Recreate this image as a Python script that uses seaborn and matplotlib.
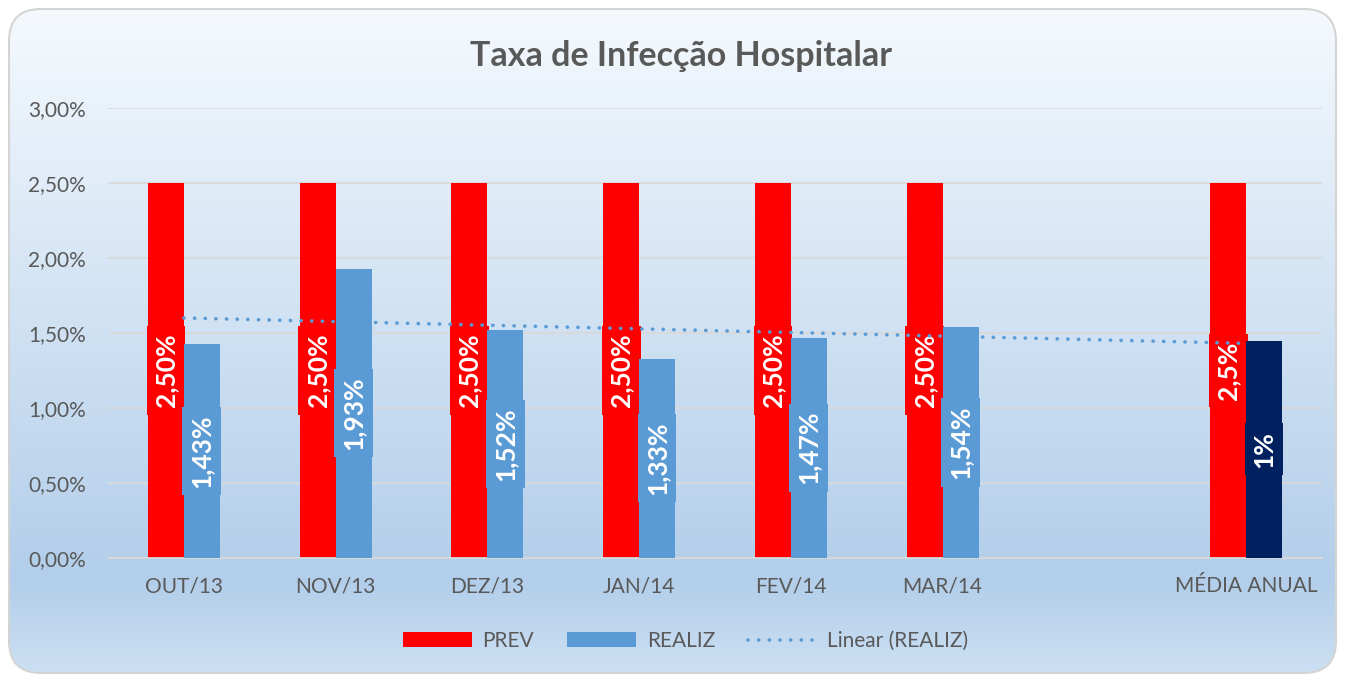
import numpy as np
import pandas as pd
import matplotlib
matplotlib.use("Agg")
import matplotlib.pyplot as plt
import seaborn as sns
from matplotlib.patches import FancyBboxPatch, Patch
from matplotlib.lines import Line2D
from matplotlib.colors import to_rgb
from matplotlib.ticker import FuncFormatter, MultipleLocator

# valores (em %)
categorias = ["OUT/13", "NOV/13", "DEZ/13", "JAN/14", "FEV/14", "MAR/14", " ", "MÉDIA ANUAL"]
prev = [2.50, 2.50, 2.50, 2.50, 2.50, 2.50, np.nan, 2.50]
realiz = [1.43, 1.93, 1.52, 1.33, 1.47, 1.54, np.nan, 1.45]
rotulos_prev = ["2,50%", "2,50%", "2,50%", "2,50%", "2,50%", "2,50%", "", "2,5%"]
rotulos_realiz = ["1,43%", "1,93%", "1,52%", "1,33%", "1,47%", "1,54%", "", "1%"]

VERMELHO = "#ff0000"
AZUL = "#5b9bd5"
MARINHO = "#002060"
CINZA = "#595959"

sns.set_style("white")
plt.rcParams["font.family"] = ["Lato", "DejaVu Sans"]

df = pd.DataFrame({
    "cat": categorias * 2,
    "serie": ["PREV"] * len(categorias) + ["REALIZ"] * len(categorias),
    "valor": prev + realiz,
}).dropna()

W, H = 1345, 675
fig = plt.figure(figsize=(W / 100, H / 100), dpi=100)

# fundo com gradiente e borda arredondada (coordenadas em pixels, y para cima)
bg = fig.add_axes([0, 0, 1, 1])
bg.set_xlim(0, W)
bg.set_ylim(0, H)
bg.axis("off")
caixa = FancyBboxPatch((9, 2), W - 18, H - 11, boxstyle="round,pad=0,rounding_size=32",
                       fc="none", ec="#d4d4d4", lw=1.5, zorder=3)
bg.add_patch(caixa)
t = np.linspace(0, 1, 256)
stops = [0.0, 0.86, 1.0]
cores = np.array([[246, 250, 254], [178, 206, 234], [204, 224, 243]]) / 255
grad = np.stack([np.interp(t, stops, cores[:, i]) for i in range(3)], axis=1)
img = bg.imshow(grad[:, None, :], extent=(0, W, 0, H), origin="upper", aspect="auto", zorder=1)
img.set_clip_path(caixa)

ax = fig.add_axes([108 / W, 1 - 558 / H, (1322 - 108) / W, 450 / H])
ax.patch.set_alpha(0)

sns.barplot(data=df, x="cat", y="valor", hue="serie", order=categorias,
            hue_order=["PREV", "REALIZ"], palette={"PREV": VERMELHO, "REALIZ": AZUL},
            width=0.474, saturation=1, legend=False, linewidth=0, ax=ax)

barras = list(ax.patches)
for p in barras:
    xc = p.get_x() + p.get_width() / 2
    i = int(round(xc))
    h = p.get_height()
    if np.isnan(h) or h == 0:
        continue
    p.set_edgecolor("none")
    eh_prev = np.allclose(p.get_facecolor()[:3], to_rgb(VERMELHO))
    if eh_prev:
        p.set_zorder(2)
        txt, z = rotulos_prev[i], 3
    else:
        if categorias[i] == "MÉDIA ANUAL":
            p.set_facecolor(MARINHO)
        p.set_zorder(5)
        txt, z = rotulos_realiz[i], 6
    ax.text(xc, h / 2, txt, rotation=90, ha="center", va="center", color="white",
            fontsize=19, fontweight="bold", zorder=z,
            bbox=dict(boxstyle="square,pad=0.28", fc=p.get_facecolor(), ec="none"))

# linha de tendencia linear (REALIZ)
xs = np.array([i for i, v in enumerate(realiz) if not np.isnan(v)])
ys = np.array([v for v in realiz if not np.isnan(v)])
a, b = np.polyfit(xs, ys, 1)
xl = np.array([xs.min(), xs.max()])
ax.plot(xl, a * xl + b, color=AZUL, lw=2.6, linestyle=(0, (0.05, 2.9)),
        dash_capstyle="round", zorder=4)

ax.set_ylim(0, 3.0)
ax.set_xlim(-0.5, len(categorias) - 0.5)
ax.yaxis.set_major_locator(MultipleLocator(0.5))
ax.yaxis.set_major_formatter(FuncFormatter(lambda v, _: f"{v:.2f}%".replace(".", ",")))
ax.yaxis.grid(True, color="#d9d9d9", lw=1.3)
ax.set_axisbelow(True)
for s in ["top", "right", "left"]:
    ax.spines[s].set_visible(False)
ax.spines["bottom"].set_color("#d9d9d9")
ax.spines["bottom"].set_linewidth(1.3)
ax.tick_params(axis="both", length=0, labelsize=15, labelcolor=CINZA)
ax.tick_params(axis="y", pad=16)
ax.tick_params(axis="x", pad=13)
ax.set_xlabel("")
ax.set_ylabel("")

fig.text(0.506, 1 - 56 / H, "Taxa de Infecção Hospitalar", ha="center", va="center",
         fontsize=24.5, fontweight="bold", color=CINZA)

handles = [Patch(fc=VERMELHO, ec="none"), Patch(fc=AZUL, ec="none"),
           Line2D([], [], color=AZUL, lw=2.6, linestyle=(0, (0.05, 2.9)), dash_capstyle="round")]
fig.legend(handles, ["PREV", "REALIZ", "Linear (REALIZ)"], loc="center",
           bbox_to_anchor=(0.51, 1 - 641 / H), ncol=3, frameon=False, fontsize=15,
           labelcolor=CINZA, handlelength=3.3, handleheight=0.7, columnspacing=1.6,
           handletextpad=0.5)

fig.savefig("out.png", dpi=100)
